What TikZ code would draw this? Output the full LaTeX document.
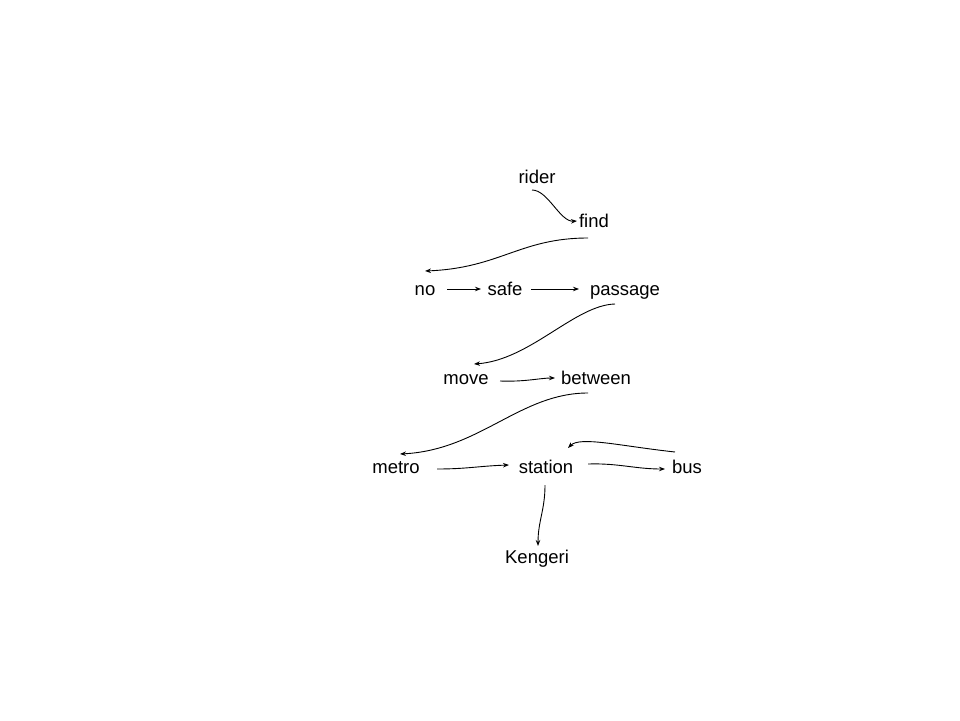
\documentclass[tikz,border=0pt]{standalone}
\usepackage{fontspec}
\setmainfont{Liberation Sans}
\usetikzlibrary{arrows.meta}
\begin{document}
\begin{tikzpicture}[x=1pt,y=-1pt,
  word/.style={inner sep=0pt,text height=14.5pt,text depth=3pt,font=\fontsize{18.5}{22}\selectfont},
  arr/.style={-{Stealth[length=6pt,width=4.5pt]},line width=0.9pt}]
\useasboundingbox[fill=white] (0,0) rectangle (960,720);
\node[word] (rider) at (537,178) {rider};
\node[word] (find) at (594,222) {find};
\node[word] (no) at (425,290) {no};
\node[word] (safe) at (505,290) {safe};
\node[word] (passage) at (625,290) {passage};
\node[word] (move) at (466,379) {move};
\node[word] (between) at (596,379) {between};
\node[word] (metro) at (396,468) {metro};
\node[word] (station) at (546,468) {station};
\node[word] (bus) at (687,468) {bus};
\node[word] (Kengeri) at (537,558) {Kengeri};
\draw[arr] ([shift={(-5,12)}]rider.center) .. controls +(16,0) and +(-17,1) .. ([shift={(-17,-1)}]find.center);
\draw[arr] ([shift={(-6,16)}]find.center) .. controls +(-68,0) and +(75,-3) .. ([shift={(0,-19)}]no.center);
\draw[arr] ([shift={(22,-1)}]no.center) -- ([shift={(-24,-1)}]safe.center);
\draw[arr] ([shift={(26,-1)}]safe.center) -- ([shift={(-46,-1)}]passage.center);
\draw[arr] ([shift={(-10,14)}]passage.center) .. controls +(-40,1) and +(56,-4) .. ([shift={(8,-15)}]move.center);
\draw[arr] ([shift={(34,2)}]move.center) .. controls +(25,1) and +(-15,0) .. ([shift={(-41,-1)}]between.center);
\draw[arr] ([shift={(-8,14)}]between.center) .. controls +(-68,0) and +(80,-4) .. ([shift={(4,-14)}]metro.center);
\draw[arr] ([shift={(41,1)}]metro.center) .. controls +(30,0) and +(-30,1) .. ([shift={(-37,-3)}]station.center);
\draw[arr] ([shift={(42,-4)}]station.center) .. controls +(30,-1) and +(-30,0) .. ([shift={(-22,1)}]bus.center);
\draw[arr] ([shift={(-12,-16)}]bus.center) .. controls +(-55,-6) and +(12,-12) .. ([shift={(22,-20)}]station.center);
\draw[arr] ([shift={(-1,17)}]station.center) .. controls +(0,25) and +(0,-25) .. ([shift={(1,-12)}]Kengeri.center);
\end{tikzpicture}
\end{document}
